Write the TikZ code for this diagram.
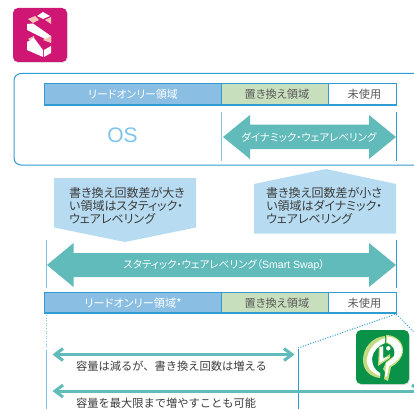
\documentclass[tikz,border=0pt]{standalone}
\usepackage{fontspec}
\newfontfamily\jp[RawFeature=+palt]{Noto Sans CJK JP}
\newfontfamily\jpfull{Noto Sans CJK JP}
\setmainfont{Liberation Sans}
\definecolor{ro}{HTML}{8ABEE3}
\definecolor{rep}{HTML}{C8DFBD}
\definecolor{edge}{HTML}{2E9BD1}
\definecolor{teal}{HTML}{61BBBB}
\definecolor{callout}{HTML}{B7DCF2}
\definecolor{vbar}{HTML}{7CC4EA}
\definecolor{txt}{HTML}{3C3C3C}
\definecolor{pinkc}{HTML}{D01675}
\definecolor{peach}{HTML}{F5C2B8}
\definecolor{greenc}{HTML}{0A9348}
\definecolor{lgreen}{HTML}{C4DC80}
\tikzset{
 x=1pt,y=-1pt,
 seg/.style={draw=edge,line width=1.1pt,inner sep=0,outer sep=0,anchor=north west},
 wlabel/.style={text=white,font=\jp\fontsize{10.5}{12}\selectfont,inner sep=0},
 rowlabel/.style={text=white,font=\jp\fontsize{10.9}{12}\selectfont,inner sep=0},
 dlabel/.style={text=txt!85,font=\jp\fontsize{11.2}{12}\selectfont,inner sep=0},
 clabel/.style={text=txt,font=\jp\fontsize{12}{13}\selectfont,inner sep=0,align=left,anchor=north west},
 caplabel/.style={text=txt,font=\jpfull\fontsize{11.25}{13}\selectfont,inner sep=0,anchor=west},
 band/.style={fill=teal,draw=none},
 vline/.style={draw=vbar,line width=1pt},
 vdark/.style={draw=edge,line width=1pt},
 dots/.style={draw=edge,line width=1pt,dash pattern=on 1pt off 1.6pt},
 thinarrow/.style={draw=teal,line width=3pt,line join=miter},
}
\begin{document}
\begin{tikzpicture}
\useasboundingbox (0,0) rectangle (414,409);
% icon S
\fill[black,opacity=.12,rounded corners=5pt] (13.5,9) rectangle (68,63);
\fill[pinkc,rounded corners=5pt] (13,8) rectangle (67,62);
\fill[white] (37,16) -- (43,12) -- (50,16) -- (43,19) -- cycle;
\fill[peach] (28,19) -- (35,16) -- (39,20) -- (33,23) -- cycle;
\fill[peach] (45,20) -- (51,17) -- (51,24) -- cycle;
\fill[white] (27,24) -- (33,23.5) -- (51,36) -- (51,42) -- (27,30) -- cycle;
\fill[peach] (28,39) -- (34,36) -- (34,43) -- cycle;
\fill[peach] (43,40) -- (51,36) -- (51,43) -- cycle;
\fill[white] (27,42) -- (34,38) -- (43,50) -- (43,57) -- (27,50) -- cycle;
\fill[white] (44,50) -- (51,46) -- (51,53) -- (44,57) -- cycle;
% top frame
\draw[edge,line width=1pt,rounded corners=7pt] (414,73.5) -- (14,73.5) -- (14,165) -- (414,165);
\node[seg,fill=ro,minimum width=177pt,minimum height=21.5pt] (ro1) at (44.5,83.5) {};
\node[seg,fill=rep,minimum width=107pt,minimum height=21.5pt] (rp1) at (221.5,83.5) {};
\node[seg,fill=white,minimum width=68pt,minimum height=21.5pt] (un1) at (328.5,83.5) {};
\node[rowlabel] at (133,94.5) {リードオンリー領域};
\node[dlabel] at (277,94.5) {置き換え領域};
\node[dlabel] at (364.5,94.5) {未使用};
\node[text=vbar,font=\fontsize{21}{23}\selectfont,inner sep=0] at (122.5,135) {OS};
\draw[vline] (221.8,112) -- (221.8,161);
\draw[vdark] (396.5,112) -- (396.5,161);
\fill[band] (223,137) -- (250,115) -- (250,124.5) -- (369,124.5) -- (369,115) -- (396,137) -- (369,159) -- (369,149) -- (250,149) -- (250,159) -- cycle;
\node[wlabel] at (309,137) {ダイナミック・ウェアレベリング};
% callouts
\fill[callout] (54,178) -- (196,178) -- (196,227.5) -- (125,242) -- (54,227.5) -- cycle;
\node[clabel] at (69,187) {書き換え回数差が大き\\い領域はスタティック・\\ウェアレベリング};
\fill[callout] (254,184) -- (326,169) -- (396,184) -- (396,233.5) -- (254,233.5) -- cycle;
\node[clabel] at (266,187) {書き換え回数差が小さ\\い領域はダイナミック・\\ウェアレベリング};
% static band
\draw[vline] (46,240) -- (46,288);
\draw[vdark] (396.8,240) -- (396.8,288);
\fill[band] (47,265) -- (73.5,243) -- (73.5,253) -- (369,253) -- (369,243) -- (396,265) -- (369,287) -- (369,277) -- (73.5,277) -- (73.5,287) -- cycle;
\node[wlabel] at (224,265) {スタティック・ウェアレベリング（\fontspec{Liberation Sans}Smart Swap\jp）};
% second row
\node[seg,fill=ro,minimum width=177pt,minimum height=20.5pt] (ro2) at (44.5,292.5) {};
\node[seg,fill=rep,minimum width=107pt,minimum height=20.5pt] (rp2) at (221.5,292.5) {};
\node[seg,fill=white,minimum width=68pt,minimum height=20.5pt] (un2) at (328.5,292.5) {};
\node[rowlabel,font=\jp\fontsize{11.2}{12}\selectfont] at (133,303) {リードオンリー領域*};
\node[dlabel] at (277,303) {置き換え領域};
\node[dlabel] at (364.5,303) {未使用};
% dotted
\draw[dots,draw=vbar] (46,315) -- (46,348);
\draw[vline] (46,350) -- (46,409);
\draw[dots] (298,348) -- (396,314) -- (414,332);
\draw[vdark] (298,349) -- (298,409);
% capacity arrows
\coordinate (a1l) at (55,354.5);
\coordinate (a1r) at (292,354.5);
\coordinate (a2l) at (55,391);
\coordinate (a2r) at (420,391);
\draw[thinarrow] (a1l) -- (a1r);
\draw[thinarrow] (a2l) -- (a2r);
\draw[thinarrow] (63,348.5) -- (a1l) -- (63,360.5);
\draw[thinarrow] (63,385) -- (a2l) -- (63,397);
\draw[thinarrow] (284,348.5) -- (a1r) -- (284,360.5);
\draw[thinarrow] (412,385) -- (a2r);
\node[caplabel] at (76,366) {容量は減るが、書き換え回数は増える};
\node[caplabel] at (76,403) {容量を最大限まで増やすことも可能};
% icon P
\fill[black,opacity=.12,rounded corners=5pt] (356.5,331) rectangle (410,385);
\fill[greenc,rounded corners=5pt] (356,330) rectangle (409,384);
% left C
\fill[lgreen] (385,336) .. controls (372,337) and (363,348) .. (363,360) .. controls (363,370) and (370,377) .. (380,378) -- (380,373) .. controls (372,370) and (369,364) .. (370,358) .. controls (371,349) and (378,343) .. (385,341) -- cycle;
\fill[white] (385,338) .. controls (376,341) and (368,349) .. (367,359) .. controls (366,367) and (372,373) .. (380,376) -- (380,373) .. controls (374,370) and (372,364) .. (372,358) .. controls (373,351) and (379,345) .. (385,343) -- cycle;
% right arc and stem
\fill[lgreen] (386,335) .. controls (396,335) and (403,342) .. (403,350) .. controls (403,358) and (397,364) .. (391,367) -- (388,381) -- (384,379) -- (385,372) -- (383,369) -- (386,362) -- (394,356) .. controls (396,350) and (393,345) .. (386,343) -- cycle;
\fill[white] (387,336.5) .. controls (396,337) and (402,343) .. (402,350) .. controls (402,358) and (396,362) .. (389,366) -- (387,376) -- (385,377) -- (386,363) -- (393,358) .. controls (397,351) and (393,344) .. (387,342) -- cycle;
% inner L
\fill[lgreen] (379,347) -- (378,366) -- (390,358) -- (390,354) -- (383,359) -- (383,346) -- cycle;
\fill[white] (380,347.5) -- (379.5,363) -- (389,357) -- (383,358) -- (383,346.5) -- cycle;
\fill[white] (388.3,348.3) circle (2.2pt);
\end{tikzpicture}
\end{document}
